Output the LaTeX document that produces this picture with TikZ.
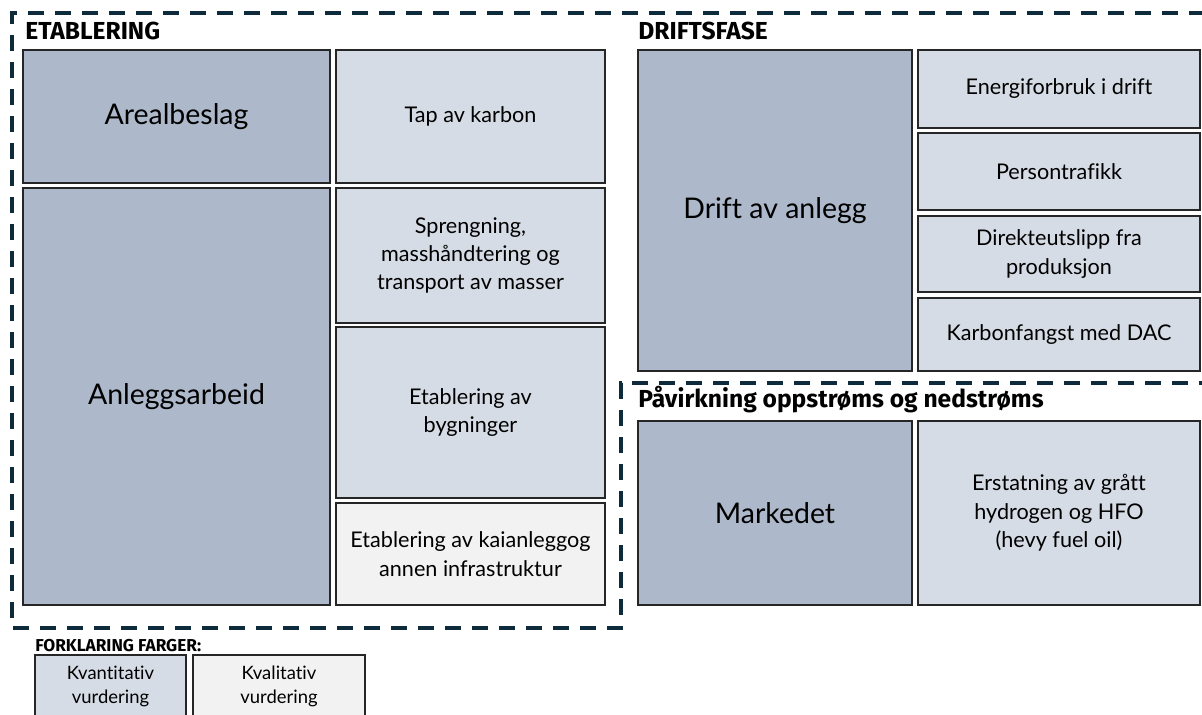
\documentclass[tikz,border=0pt]{standalone}
\usepackage{fontspec}
\setmainfont[Ligatures=NoCommon]{Lato}
\newfontfamily\headfont{Fira Sans Bold}
\usepackage{tikz}
\usetikzlibrary{positioning}

\definecolor{quantfill}{HTML}{ADB9CA}
\definecolor{lightfill}{HTML}{D6DCE5}
\definecolor{qualfill}{HTML}{F2F2F2}
\definecolor{dashcol}{HTML}{0E2B3B}

\begin{document}
\begin{tikzpicture}[
    box/.style={
        draw=black!85,
        line width=0.8pt,
        align=center,
        inner sep=2pt,
        outer sep=0pt,
        anchor=north west
    },
    bigbox/.style={
        box,
        fill=quantfill,
        font=\fontsize{16.2}{19}\selectfont
    },
    smallbox/.style={
        box,
        fill=lightfill,
        font=\fontsize{12.3}{16.2}\selectfont
    },
    qualbox/.style={
        smallbox,
        fill=qualfill
    },
    heading/.style={
        anchor=base west,
        inner sep=0pt,
        font=\headfont\fontsize{14}{16}\selectfont
    },
    border/.style={
        draw=dashcol,
        line width=2.2pt,
        dash pattern=on 0.32cm off 0.22cm
    }
]
\useasboundingbox (0,0) rectangle (24.04,-14.3);

% etablering
\node[bigbox, minimum width=6.14cm, minimum height=2.66cm] (areal) at (0.46,-1.0) {Arealbeslag};
\node[bigbox, minimum width=6.14cm, minimum height=8.34cm, below=0.1cm of areal.south west, anchor=north west] (anlegg) {Anleggsarbeid};
\node[smallbox, minimum width=5.38cm, minimum height=2.66cm, right=0.12cm of areal.north east, anchor=north west] (karbontap) {Tap av karbon};
\node[smallbox, minimum width=5.38cm, minimum height=2.7cm, below=0.1cm of karbontap.south west, anchor=north west] (spreng) {Sprengning,\\masshåndtering og\\transport av masser};
\node[smallbox, minimum width=5.38cm, minimum height=3.42cm, below=0.08cm of spreng.south west, anchor=north west] (bygg) {Etablering av\\bygninger};
\node[qualbox, minimum width=5.38cm, minimum height=2.04cm, below=0.1cm of bygg.south west, anchor=north west] (kai) {Etablering av kaianleggog\\annen infrastruktur};

% driftsfase
\node[bigbox, minimum width=5.48cm, minimum height=6.42cm, right=0.66cm of karbontap.north east, anchor=north west] (drift) {Drift av anlegg};
\node[smallbox, minimum width=5.64cm, minimum height=1.56cm, right=0.12cm of drift.north east, anchor=north west] (energi) {Energiforbruk i drift};
\node[smallbox, minimum width=5.64cm, minimum height=1.54cm, below=0.1cm of energi.south west, anchor=north west] (person) {Persontrafikk};
\node[smallbox, minimum width=5.64cm, minimum height=1.52cm, below=0.12cm of person.south west, anchor=north west] (direkte) {Direkteutslipp fra\\produksjon};
\node[smallbox, minimum width=5.64cm, minimum height=1.46cm, below=0.12cm of direkte.south west, anchor=north west] (dac) {Karbonfangst med DAC};

% oppstrøms og nedstrøms
\node[bigbox, minimum width=5.48cm, minimum height=3.68cm, below=1.0cm of drift.south west, anchor=north west] (marked) {Markedet};
\node[smallbox, minimum width=5.64cm, minimum height=3.68cm, right=0.12cm of marked.north east, anchor=north west] (erstatning) {Erstatning av grått\\hydrogen og HFO\\(hevy fuel oil)};

% headings
\node[heading] (etabhead) at (0.5,-0.8) {ETABLERING};
\node[heading] (drifthead) at (12.76,-0.8) {DRIFTSFASE};
\node[heading] (paavhead) at (12.76,-8.16) {Påvirkning oppstrøms og nedstrøms};

% dashed frame
\draw[border] (24.1,-0.26) -- (0.24,-0.26) -- (0.24,-12.56) -- (12.42,-12.56) -- (12.42,-7.66) -- (24.1,-7.66);

% legend
\node[heading, font=\headfont\fontsize{9.8}{11}\selectfont] (legendhead) at (0.7,-13.04) {FORKLARING FARGER:};
\node[smallbox, minimum width=3.02cm, minimum height=1.26cm, font=\fontsize{10.5}{13.6}\selectfont] (kvant) at (0.7,-13.1) {Kvantitativ\\vurdering};
\node[qualbox, minimum width=3.44cm, minimum height=1.26cm, font=\fontsize{10.5}{13.6}\selectfont, right=0.14cm of kvant.north east, anchor=north west] (kval) {Kvalitativ\\vurdering};
\end{tikzpicture}
\end{document}
